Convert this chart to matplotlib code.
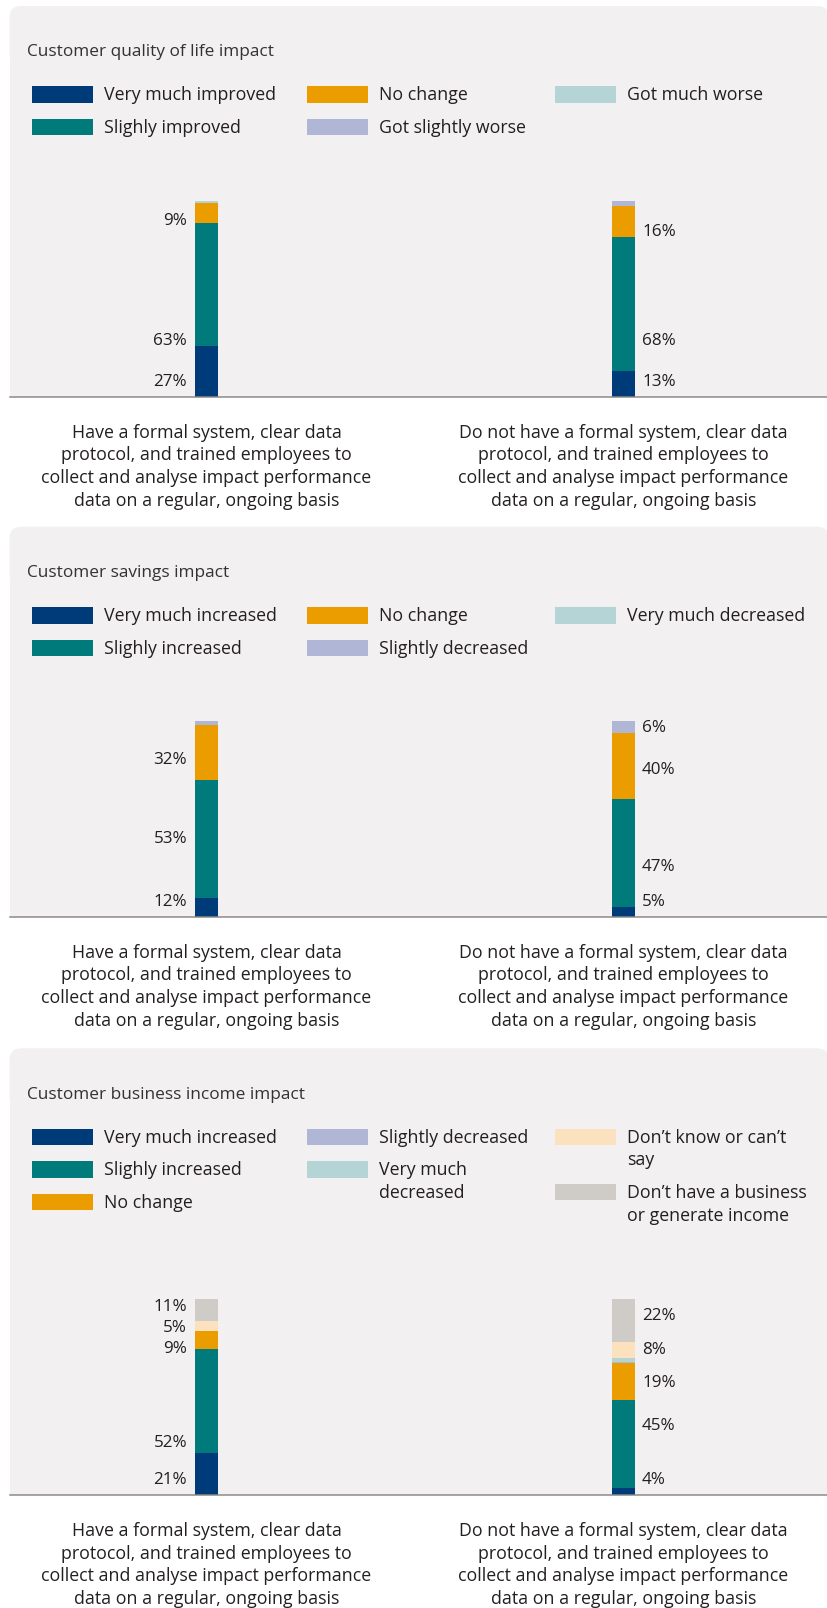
import matplotlib.pyplot as plt
from matplotlib.patches import FancyBboxPatch, Rectangle
from matplotlib.transforms import Affine2D

# ---- data -------------------------------------------------------------
groups = [
    "Have a formal system, clear data\nprotocol, and trained employees to\ncollect and analyse impact performance\ndata on a regular, ongoing basis",
    "Do not have a formal system, clear data\nprotocol, and trained employees to\ncollect and analyse impact performance\ndata on a regular, ongoing basis",
]

# quality of life (values per group: [with system, without system])
life_title = "Customer quality of life impact"
life_cats = ["Very much improved", "Slighly improved", "No change",
             "Got slightly worse", "Got much worse"]
life_very = [26, 13]
life_slight = [62.5, 68.5]
life_none = [10.5, 16]
life_sworse = [0, 2.5]
life_mworse = [1, 0]
life_text = [["27%", "63%", "9%"], ["13%", "68%", "16%"]]
life_text_y = [[7.6, 28.3, 89.5], [7.6, 28.3, 83.9]]

# savings
sav_title = "Customer savings impact"
sav_cats = ["Very much increased", "Slighly increased", "No change",
            "Slightly decreased", "Very much decreased"]
sav_very = [9.5, 4.9]
sav_slight = [60.3, 55]
sav_none = [28.1, 34]
sav_sdec = [2.1, 5.7]
sav_vdec = [0, 0.4]
sav_text = [["12%", "53%", "32%"], ["5%", "47%", "40%", "6%"]]
sav_text_y = [[7.7, 39.5, 80], [7.7, 25.6, 75, 96.3]]

# business income
inc_title = "Customer business income impact"
inc_cats = ["Very much increased", "Slighly increased", "No change",
            "Slightly decreased", "Very much\ndecreased",
            "Don\u2019t know or can\u2019t\nsay",
            "Don\u2019t have a business\nor generate income"]
inc_very = [21.4, 3.6]
inc_slight = [53.1, 44.9]
inc_none = [9.2, 18.7]
inc_sdec = [0, 0.85]
inc_vdec = [0, 1.9]
inc_dk = [5.1, 8.2]
inc_dh = [11.2, 21.9]
inc_text = [["21%", "52%", "9%", "5%", "11%"], ["4%", "45%", "19%", "8%", "22%"]]
inc_text_y = [[7.7, 26.7, 74.5, 85, 96.1], [7.7, 35.2, 57, 74, 91.3]]

colors = ["#003b79", "#007a7a", "#eb9d00", "#b0b6d5", "#b4d4d6", "#fbe1be", "#cfcbc6"]

# ---- layout -----------------------------------------------------------
W, H = 827, 1608
fig = plt.figure(figsize=(W / 72, H / 72), dpi=72)
plt.rcParams['font.family'] = ['Open Sans', 'DejaVu Sans']
TXT = "#231f20"
BG = "#f2f0f1"
FS = 17.8      # legend + group labels
FS_VAL = 17    # percentage labels

# pixel coords, origin top-left
px = Affine2D().scale(1 / 72, -1 / 72).translate(0, H / 72) + fig.dpi_scale_trans

LEFT, RIGHT = 9.5, 827
CX = [206.5, 623.5]
STEP = CX[1] - CX[0]
BAR_H = 196


def panel(top, base, title, cats, series, legend_cols, texts, text_y):
    # background card: rounded top, square bottom at the baseline
    fig.patches.append(FancyBboxPatch((LEFT, top), RIGHT + 2 - LEFT, 60,
                                      boxstyle="round,pad=0,rounding_size=12",
                                      transform=px, fc=BG, ec="none", lw=0, zorder=-2))
    fig.patches.append(Rectangle((LEFT, top + 30), RIGHT + 2 - LEFT, base - top - 30,
                                 transform=px, fc=BG, ec="none", lw=0, zorder=-2))

    fig.text(27.4, top + 46.5, title, transform=px, ha="left", va="center",
             fontsize=17.3, color="#333333")

    # legend
    col_x = [32, 307, 555]
    for c, items in enumerate(legend_cols):
        y = top + 88.5
        for k in items:
            fig.patches.append(Rectangle((col_x[c], y - 8.3), 61, 16.6, transform=px,
                                         fc=colors[k], ec="none", lw=0, zorder=1))
            lines = cats[k].split("\n")
            for j, line in enumerate(lines):
                fig.text(col_x[c] + 72, y + 1 + j * 22.6, line, transform=px,
                         ha="left", va="center", fontsize=FS, color=TXT)
            y += len(lines) * 22.6 + 10

    # bars
    ax = fig.add_axes([LEFT / W, 1 - base / H, (RIGHT - LEFT) / W, BAR_H / H])
    ax.patch.set_visible(False)
    ax.set_xlim(-(CX[0] - LEFT) / STEP, 1 + (RIGHT - CX[1]) / STEP)
    ax.set_ylim(0, 100)
    bw = 23 / STEP
    x = [0, 1]
    bottom = [0, 0]
    for k, vals in enumerate(series):
        ax.bar(x, vals, bottom=bottom, width=bw, color=colors[k], lw=0, zorder=2)
        bottom = [b + v for b, v in zip(bottom, vals)]

    for i in range(2):
        for t, yy in zip(texts[i], text_y[i]):
            if i == 0:
                ax.text(-bw / 2 - 8 / STEP, yy, t, ha="right", va="center",
                        fontsize=FS_VAL, color=TXT, clip_on=False)
            else:
                ax.text(1 + bw / 2 + 7 / STEP, yy, t, ha="left", va="center",
                        fontsize=FS_VAL, color=TXT, clip_on=False)

    for s in ["top", "left", "right"]:
        ax.spines[s].set_visible(False)
    ax.spines["bottom"].set_color("#8c8884")
    ax.spines["bottom"].set_linewidth(1.5)
    ax.set_xticks([])
    ax.set_yticks([])

    # group labels under the baseline
    for i, g in enumerate(groups):
        for j, line in enumerate(g.split("\n")):
            ax.annotate(line, xy=(i, 0), xycoords=("data", "axes fraction"),
                        xytext=(0, -(36 + j * 22.6)), textcoords="offset pixels",
                        ha="center", va="center", fontsize=FS, color=TXT,
                        annotation_clip=False)


panel(6, 396.7, life_title, life_cats,
      [life_very, life_slight, life_none, life_sworse, life_mworse],
      [[0, 1], [2, 3], [4]], life_text, life_text_y)
panel(526.7, 916.7, sav_title, sav_cats,
      [sav_very, sav_slight, sav_none, sav_sdec, sav_vdec],
      [[0, 1], [2, 3], [4]], sav_text, sav_text_y)
panel(1048.3, 1495, inc_title, inc_cats,
      [inc_very, inc_slight, inc_none, inc_sdec, inc_vdec, inc_dk, inc_dh],
      [[0, 1, 2], [3, 4], [5, 6]], inc_text, inc_text_y)

fig.savefig("out.png", dpi=72, facecolor="white")
